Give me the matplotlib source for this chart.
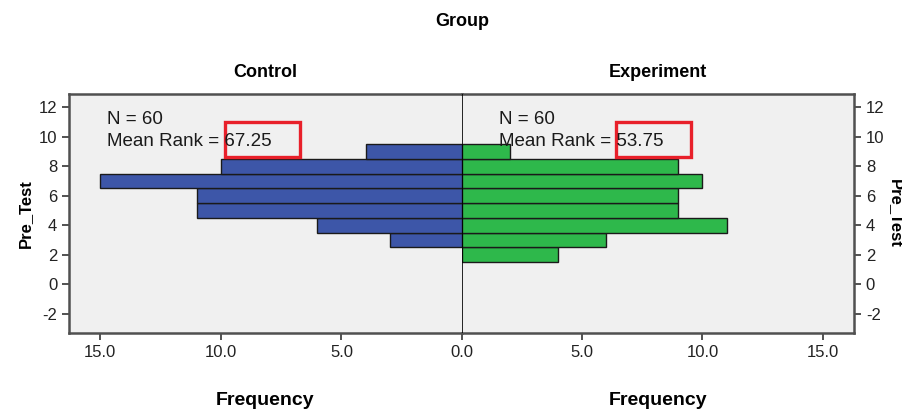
import numpy as np
import matplotlib
matplotlib.use("Agg")
import matplotlib.pyplot as plt
from matplotlib.patches import Rectangle

# Pre_Test score bins and frequencies per group
control_bins = [3, 4, 5, 6, 7, 8, 9]
control_freq = [3, 6, 11, 11, 15, 10, 4]
experiment_bins = [2, 3, 4, 5, 6, 7, 8, 9]
experiment_freq = [4, 6, 11, 9, 9, 10, 9, 2]

groups = ["Control", "Experiment"]
n_values = [60, 60]
mean_ranks = ["67.25", "53.75"]
y_ticks = [-2, 0, 2, 4, 6, 8, 10, 12]
x_ticks = [0, 5, 10, 15]

plt.rcParams['font.family'] = ['Liberation Sans', 'DejaVu Sans']
plt.rcParams['axes.unicode_minus'] = False

blue = '#3d56a8'
green = '#2eb84b'
bg = '#f0f0f0'
frame = '#505050'

fig = plt.figure(figsize=(9.02, 4.12), dpi=100)
W, H = 902, 412
x0, xm, x1 = 69, 462, 854
ytop, ybot = 94, 333
axl = fig.add_axes([x0 / W, 1 - ybot / H, (xm - x0) / W, (ybot - ytop) / H])
axr = fig.add_axes([xm / W, 1 - ybot / H, (x1 - xm) / W, (ybot - ytop) / H])

xmax = 16.3
ylim = (-3.3, 12.9)

axl.barh(control_bins, control_freq, height=1.0, color=blue,
         edgecolor='#1a1a1a', linewidth=1.0)
axr.barh(experiment_bins, experiment_freq, height=1.0, color=green,
         edgecolor='#1a1a1a', linewidth=1.0)

for ax in (axl, axr):
    ax.set_facecolor(bg)
    ax.set_ylim(*ylim)
    ax.set_yticks(y_ticks)
    ax.tick_params(axis='both', direction='out', length=5, width=1.2,
                   color='#333333', labelcolor='#222222', labelsize=12)
    for s in ax.spines.values():
        s.set_color(frame)
        s.set_linewidth(1.8)
    ax.set_xlabel('Frequency', fontsize=14, fontweight='bold', labelpad=23)

axl.set_xlim(xmax, 0)
axr.set_xlim(0, xmax)
axl.set_xticks(x_ticks)
axl.set_xticklabels(['%.1f' % t for t in x_ticks])
axr.set_xticks(x_ticks[1:])
axr.set_xticklabels(['%.1f' % t for t in x_ticks[1:]])
axl.spines['right'].set_visible(False)
axr.spines['left'].set_visible(False)
axr.axvline(0, color='black', linewidth=1.2, zorder=5)

axr.yaxis.tick_right()
axr.yaxis.set_label_position('right')
axl.set_ylabel('Pre_Test', fontsize=12, fontweight='bold', labelpad=4)
axr.set_ylabel('Pre_Test', fontsize=12, fontweight='bold', rotation=-90,
               labelpad=13)

for ax, g in zip((axl, axr), groups):
    ax.set_title(g, fontsize=13, fontweight='bold', pad=12)

fig.text(xm / W, 1 - 22 / H, 'Group', fontsize=13,
         fontweight='bold', ha='center', va='center')

# annotation positions in pixel-space converted to figure coordinates
for ax, n, mr, tx, bx in zip((axl, axr), n_values, mean_ranks,
                              (107, 499), (225, 616)):
    fig.text(tx / W, 1 - 120 / H, 'N = %d' % n, fontsize=13.5,
             va='center', color='#1a1a1a')
    fig.text(tx / W, 1 - 142 / H, 'Mean Rank = ' + mr, fontsize=13.5,
             va='center', color='#1a1a1a')
    fig.add_artist(Rectangle((bx / W, 1 - 157 / H), 75 / W, 35 / H,
                             transform=fig.transFigure, fill=False,
                             edgecolor='#e8202a', linewidth=2.4))

fig.savefig('out.png', dpi=100, facecolor='white')
